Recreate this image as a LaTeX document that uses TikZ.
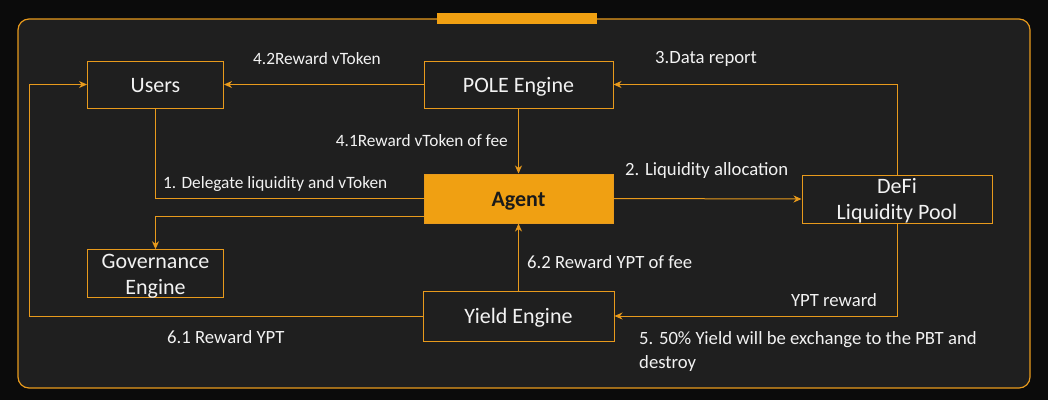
\documentclass[tikz,border=0pt]{standalone}
\usepackage{fontspec}
\setmainfont{Carlito}
\usetikzlibrary{arrows.meta}
\definecolor{bgout}{HTML}{0B0B0B}
\definecolor{panel}{HTML}{1F1F1F}
\definecolor{org}{HTML}{F0A012}
\definecolor{lineorg}{HTML}{E89A1C}
\definecolor{txt}{HTML}{F2F2F2}
\definecolor{darktxt}{HTML}{1A1A1A}
\tikzset{
  box/.style={draw=lineorg, line width=1pt, fill=panel, text=txt, inner sep=0pt,
    font=\fontsize{22}{26}\selectfont, align=center},
  one/.style={text height=18pt, text depth=3pt},
  two/.style={text height=44.5pt, text depth=3pt},
  lbl/.style={text=txt, inner sep=0pt, font=\fontsize{18.7}{23.5}\selectfont},
  lbls/.style={text=txt, inner sep=0pt, font=\fontsize{17.3}{22}\selectfont},
  conn/.style={draw=lineorg, line width=1pt},
  arr/.style={conn, -{Stealth[length=8pt,width=7pt,inset=2.5pt]}},
}
\begin{document}
\begin{tikzpicture}[x=1pt,y=-1pt]
\useasboundingbox (0,0) rectangle (1048,400);
\fill[bgout] (0,0) rectangle (1048,400);
\draw[lineorg, line width=1.2pt, fill=panel, rounded corners=11pt] (18,19) rectangle (1030,388);
\fill[org] (437,13) rectangle (597,24);

% nodes
\node[box, one, minimum width=136pt, minimum height=47pt] (users) at (155.5,84.5) {Users};
\node[box, one, minimum width=189pt, minimum height=47pt] (pole) at (518.5,84.5) {POLE Engine};
\node[box, one, minimum width=189pt, minimum height=49pt, fill=org, text=darktxt, font=\fontsize{22}{26}\selectfont\bfseries] (agent) at (518.5,198.5) {Agent};
\node[box, two, minimum width=190pt, minimum height=48pt] (defi) at (897,199) {DeFi\\Liquidity Pool};
\node[box, two, minimum width=136pt, minimum height=47pt] (gov) at (155.5,273.5) {Governance\\Engine};
\node[box, one, minimum width=191pt, minimum height=50pt] (yield) at (518.5,316) {Yield Engine};

\coordinate (L1) at (29,316);

% connectors
\draw[arr] (pole.west) -- (users.east);
\draw[arr] (yield.west) -- (L1) |- (users.west);
\draw[conn] (users.south) |- (agent.west);
\draw[arr] ([yshift=-18pt]agent.west) -| (gov.north);
\draw[arr] (pole.south) -- (agent.north);
\draw[arr] (agent.east) -- (defi.west);
\draw[arr] (defi.north) |- (pole.east);
\draw[arr] (defi.south) |- (yield.east);
\draw[arr] (yield.north) -- (agent.south);

% labels
\node[lbls, anchor=mid west] (l42) at (253,62.5) {4.2Reward vToken};
\node[lbl, anchor=mid west] (l3) at (655,61.5) {3.Data report};
\node[lbls, anchor=mid east] (l41) at (508,144.5) {4.1Reward vToken of fee};
\node[lbls, anchor=mid west] (l1) at (163,186.5) {1. Delegate liquidity and vToken};
\node[lbl, anchor=mid west] (l2) at (625,173.5) {2. Liquidity allocation};
\node[lbl, anchor=mid west] (l62) at (527,266.5) {6.2 Reward YPT of fee};
\node[lbl, anchor=mid east] (lypt) at (877,304.5) {YPT reward};
\node[lbl, anchor=mid west] (l61) at (167,341.5) {6.1 Reward YPT};
\node[lbl, anchor=north west, align=left] (l5) at (639,331.5) {5. 50\% Yield will be exchange to the PBT and\\destroy};
\end{tikzpicture}
\end{document}
